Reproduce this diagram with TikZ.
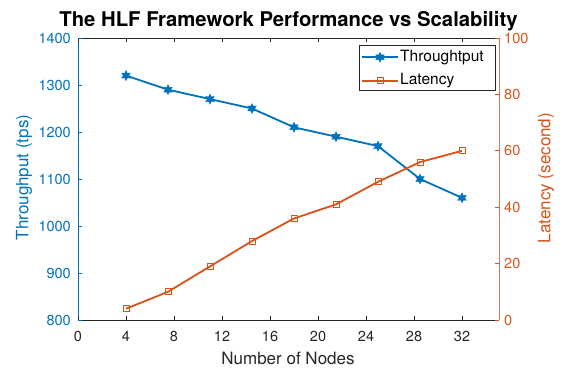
\documentclass[tikz,border=0pt]{standalone}
\usepackage{fontspec}
\setmainfont{TeX Gyre Heros}
\usetikzlibrary{shapes.geometric,calc}
\definecolor{tpblue}{rgb}{0,0.447,0.741}
\definecolor{latorange}{rgb}{0.85,0.325,0.098}
\definecolor{axgray}{rgb}{0.15,0.15,0.15}
\tikzset{
    tpmark/.style={star, star points=6, star point ratio=1.9, fill=tpblue, draw=tpblue, minimum size=10pt, inner sep=0pt},
    latmark/.style={rectangle, draw=latorange, line width=1pt, minimum size=6pt, inner sep=0pt},
    tpline/.style={tpblue, line width=1.8pt},
    latline/.style={latorange, line width=1.8pt},
    ticklab/.style={font=\fontsize{14.5}{14.5}\selectfont, inner sep=1pt},
    axlab/.style={font=\fontsize{17}{17}\selectfont, inner sep=0pt},
    leglab/.style={font=\fontsize{15.5}{15.5}\selectfont, inner sep=0pt},
}

\begin{document}
\begin{tikzpicture}[x=1pt,y=1pt]
    \useasboundingbox (0,0) rectangle (561,367);
    % axes box
    \draw[axgray, line width=0.6pt] (78,47) -- (499,47);
    \draw[axgray, line width=0.6pt] (78,329) -- (499,329);
    \draw[tpblue, line width=0.6pt] (78,47) -- (78,329);
    \draw[latorange!80, line width=0.6pt] (499,47) -- (499,329);
    % x ticks
    \foreach \n in {0,4,...,32}{
        \draw[axgray, line width=0.6pt] (78+12*\n,47) -- ++(0,4);
        \draw[axgray, line width=0.6pt] (78+12*\n,329) -- ++(0,-4);
        \node[ticklab, text=axgray] (xt\n) at (78+12*\n,31) {\n};
    }
    % left y ticks
    \foreach \v in {800,900,...,1400}{
        \draw[tpblue, line width=0.6pt] (78,47+0.47*\v-376) -- ++(4,0);
        \node[ticklab, text=tpblue, anchor=east] (yl\v) at (72,47+0.47*\v-376) {\v};
    }
    % right y ticks
    \foreach \v in {0,20,...,100}{
        \draw[latorange, line width=0.6pt] (499,47+2.82*\v) -- ++(-4,0);
        \node[ticklab, text=latorange, anchor=west] (yr\v) at (503,47+2.82*\v) {\v};
    }
    % labels
    \node[font=\bfseries\fontsize{20.3}{20.3}\selectfont, inner sep=0pt, anchor=base] (title) at (288.5,340.3) {The HLF Framework Performance vs Scalability};
    \node[axlab, text=axgray, anchor=base] (xlabel) at (288,2.7) {Number of Nodes};
    \node[axlab, text=tpblue, rotate=90] (ylabelL) at (24,189.5) {Throughput (tps)};
    \node[axlab, text=latorange, rotate=90] (ylabelR) at (546,189) {Latency (second)};
    % throughput
    \foreach \i/\x/\v in {1/4/1320,2/7.5/1290,3/11/1270,4/14.5/1250,5/18/1210,6/21.5/1190,7/25/1170,8/28.5/1100,9/32/1060}
        \coordinate (tc\i) at (78+12*\x,47+0.47*\v-376);
    \foreach \i/\x/\v in {1/4/4,2/7.5/10,3/11/19,4/14.5/28,5/18/36,6/21.5/41,7/25/49,8/28.5/56,9/32/60}
        \coordinate (lc\i) at (78+12*\x,47+2.82*\v);
    \draw[tpline] (tc1) -- (tc2) -- (tc3) -- (tc4) -- (tc5) -- (tc6) -- (tc7) -- (tc8) -- (tc9);
    \draw[latline] (lc1) -- (lc2) -- (lc3) -- (lc4) -- (lc5) -- (lc6) -- (lc7) -- (lc8) -- (lc9);
    \foreach \i in {1,...,9}{
        \node[tpmark] (t\i) at (tc\i) {};
        \node[latmark] (l\i) at (lc\i) {};
    }
    % legend
    \draw[axgray, fill=white, line width=0.6pt] (359,277) rectangle (495,322);
    \coordinate (lg1a) at (362,309.7);
    \coordinate (lg1b) at (398,309.7);
    \coordinate (lg2a) at (362,286.3);
    \coordinate (lg2b) at (398,286.3);
    \draw[tpline] (lg1a) -- (lg1b);
    \draw[latline] (lg2a) -- (lg2b);
    \node[tpmark] (lgt) at ($(lg1a)!0.5!(lg1b)$) {};
    \node[latmark] (lgl) at ($(lg2a)!0.5!(lg2b)$) {};
    \node[leglab, anchor=west] (lgtext1) at (400,309.7) {Throughtput};
    \node[leglab, anchor=west] (lgtext2) at (400,286.3) {Latency};
\end{tikzpicture}
\end{document}
